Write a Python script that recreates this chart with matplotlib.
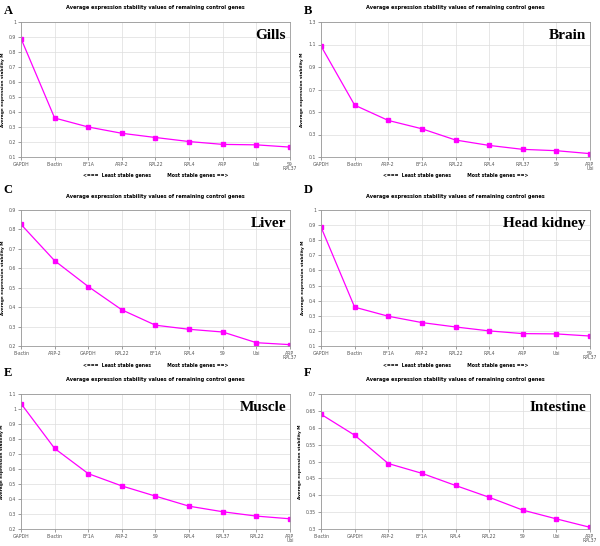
import matplotlib
matplotlib.use("Agg")
from matplotlib import pyplot as plt

# data
genes_a = ["GAPDH", "B-actin", "EF1A", "ARP-2", "RPL22", "RPL4", "ARP", "Ubi", "S9\nRPL37"]
vals_a = [0.89, 0.36, 0.30, 0.258, 0.23, 0.203, 0.184, 0.181, 0.166]

genes_b = ["GAPDH", "B-actin", "ARP-2", "EF1A", "RPL22", "RPL4", "RPL37", "S9", "ARP\nUbi"]
vals_b = [1.087, 0.561, 0.425, 0.351, 0.251, 0.203, 0.168, 0.156, 0.13]

genes_c = ["B-actin", "ARP-2", "GAPDH", "RPL22", "EF1A", "RPL4", "S9", "Ubi", "ARP\nRPL37"]
vals_c = [0.826, 0.639, 0.506, 0.386, 0.307, 0.286, 0.272, 0.217, 0.207]

genes_d = ["GAPDH", "B-actin", "EF1A", "ARP-2", "RPL22", "RPL4", "ARP", "Ubi", "S9\nRPL37"]
vals_d = [0.887, 0.357, 0.297, 0.255, 0.226, 0.20, 0.182, 0.18, 0.166]

genes_e = ["GAPDH", "B-actin", "EF1A", "ARP-2", "S9", "RPL4", "RPL37", "RPL22", "ARP\nUbi"]
vals_e = [1.036, 0.737, 0.569, 0.487, 0.419, 0.352, 0.315, 0.286, 0.268]

genes_f = ["B-actin", "GAPDH", "ARP-2", "EF1A", "RPL4", "RPL22", "S9", "Ubi", "ARP\nRPL37"]
vals_f = [0.64, 0.578, 0.494, 0.465, 0.429, 0.394, 0.356, 0.33, 0.305]

panels = [
    ("A", "Gills", genes_a, vals_a, 0.1, 1.0, 0.1),
    ("B", "Brain", genes_b, vals_b, 0.1, 1.3, 0.2),
    ("C", "Liver", genes_c, vals_c, 0.2, 0.9, 0.1),
    ("D", "Head kidney", genes_d, vals_d, 0.1, 1.0, 0.1),
    ("E", "Muscle", genes_e, vals_e, 0.2, 1.1, 0.1),
    ("F", "Intestine", genes_f, vals_f, 0.3, 0.7, 0.05),
]

W, H = 600, 546
fig = plt.figure(figsize=(6, 5.46), dpi=100)

# axes box (left, top, right, bottom) in pixels for each column / row
cols = [(21, 290), (321, 590)]
rows = [(22, 157), (210, 346), (394, 529)]
title_y = [7, 196, 379]
letter_y = [11, 190, 373]

for i, (letter, tissue, genes, vals, lo, hi, step) in enumerate(panels):
    r, c = divmod(i, 2)
    x0, x1 = cols[c]
    y0, y1 = rows[r]
    ax = fig.add_axes([x0 / W, 1 - y1 / H, (x1 - x0) / W, (y1 - y0) / H])
    xs = list(range(len(genes)))
    ax.plot(xs, vals, color="#ff00ff", lw=0.9, marker="s", ms=3.2,
            mec="#ff00ff", mfc="#ff00ff")
    ax.set_xlim(0, len(genes) - 1)
    ax.set_ylim(lo, hi)
    n = int(round((hi - lo) / step))
    ticks = [lo + k * step for k in range(n + 1)]
    ax.set_yticks(ticks)
    ax.set_yticklabels(["%g" % round(t, 2) for t in ticks])
    ax.set_xticks(xs)
    ax.set_xticklabels(genes, linespacing=0.9)
    ax.tick_params(labelsize=3.3, colors="#555555", length=2, width=0.4, pad=1.5)
    ax.grid(True, color="#dddddd", lw=0.5)
    for s in ax.spines.values():
        s.set_color("#999999")
        s.set_linewidth(0.6)
    ax.set_ylabel("Average expression stability M", fontsize=3.1, fontweight="bold", labelpad=3)
    ax.text(0.985, 0.90, tissue, transform=ax.transAxes, ha="right", va="center",
            fontsize=11, fontweight="bold", family="Liberation Serif")
    cx = (x0 + x1) / 2 / W
    fig.text(cx, 1 - title_y[r] / H, "Average expression stability values of remaining control genes",
             ha="center", va="center", fontsize=3.6, fontweight="bold")
    if r < 2:
        # the bottom row's axis caption falls outside the picture
        fig.text(cx, 1 - (y1 + 19) / H,
                 "<===  Least stable genes          Most stable genes ==>",
                 ha="center", va="center", fontsize=3.3, fontweight="bold")
    fig.text((c * 300 + 8) / W, 1 - letter_y[r] / H, letter, ha="center", va="center",
             fontsize=9, fontweight="bold", family="Liberation Serif")

fig.savefig("out.png", dpi=100)
